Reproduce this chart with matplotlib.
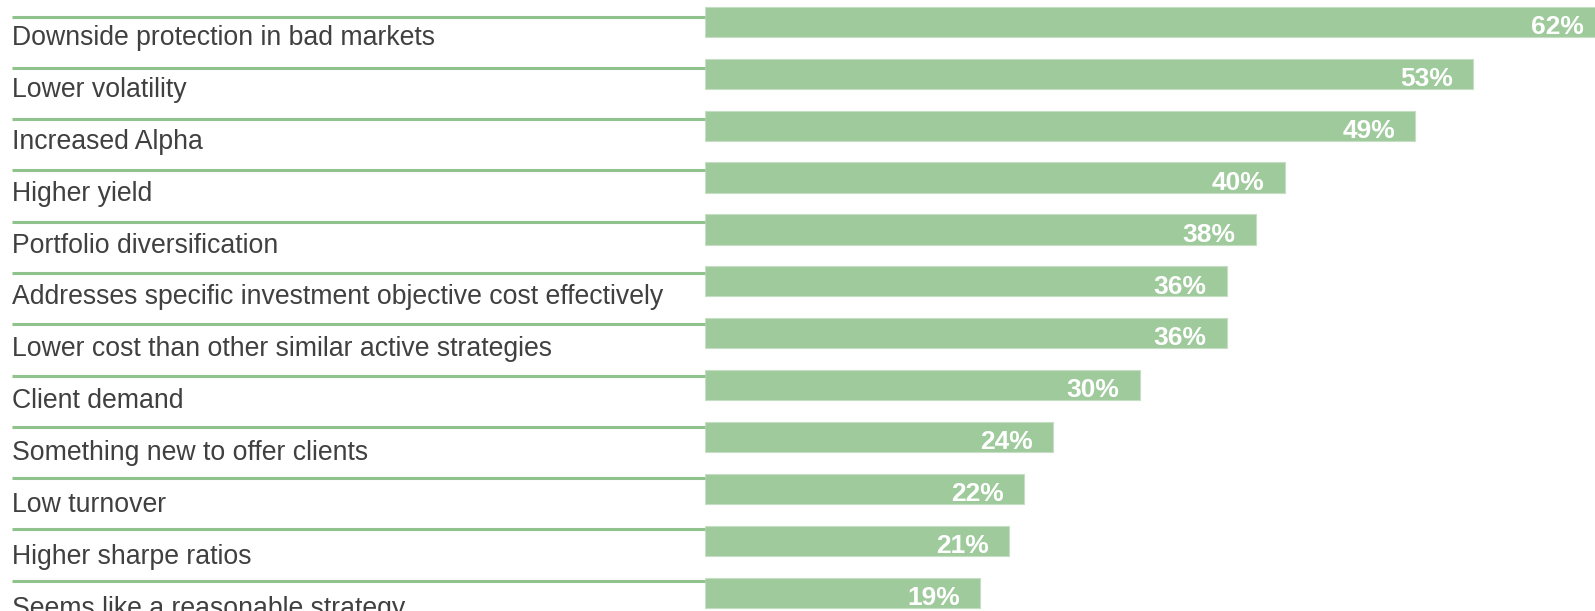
import matplotlib
matplotlib.use("Agg")
import matplotlib.pyplot as plt
from matplotlib.transforms import blended_transform_factory

# data, top to bottom
categories = [
    "Downside protection in bad markets",
    "Lower volatility",
    "Increased Alpha",
    "Higher yield",
    "Portfolio diversification",
    "Addresses specific investment objective cost effectively",
    "Lower cost than other similar active strategies",
    "Client demand",
    "Something new to offer clients",
    "Low turnover",
    "Higher sharpe ratios",
    "Seems like a reasonable strategy",
]
values = [62, 53, 49, 40, 38, 36, 36, 30, 24, 22, 21, 19]
value_labels = ["%d%%" % v for v in values]

bar_color = "#9fca9c"
line_color = "#8fc28d"
text_color = "#404040"

W, H = 1595, 611
fig = plt.figure(figsize=(W / 100.0, H / 100.0), dpi=100)
x0 = 705.0 / W
ax = fig.add_axes([x0, 0, 1 - x0, 1])

pos = list(range(len(categories)))
ax.barh(pos, values, height=0.58, color=bar_color, edgecolor="#c6dfc4", linewidth=0.8)
ax.set_xlim(0, 61.4)
ax.set_ylim(11.35, -0.42)
ax.axis("off")

for i, (v, lab) in enumerate(zip(values, value_labels)):
    ax.annotate(lab, xy=(v, i + 0.1), xytext=(-14.5, 0), textcoords="offset points",
                ha="right", va="center", color="white", fontsize=19, fontweight="bold",
                family="Liberation Sans", annotation_clip=False)

# separator lines and category labels on the left of the bars
trans = blended_transform_factory(fig.transFigure, ax.transData)
for i, cat in enumerate(categories):
    ly = i * 0.988 - 0.1
    ax.plot([12.0 / W, x0], [ly, ly], transform=trans, color=line_color, lw=2.2,
            clip_on=False, solid_capstyle="butt")
    ax.text(12.0 / W, i + 0.31, cat, transform=trans, ha="left", va="center",
            fontsize=19.2, color=text_color, family="Liberation Sans")

fig.savefig("out.png", dpi=100)
